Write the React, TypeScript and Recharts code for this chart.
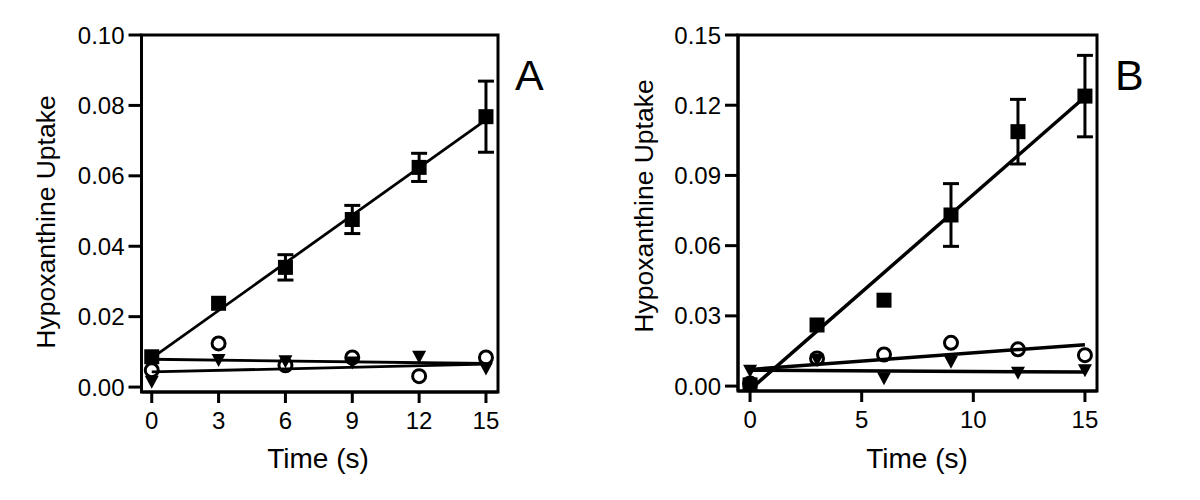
import { ComposedChart, Scatter, XAxis, YAxis, ErrorBar, ReferenceArea } from 'recharts';

// sampling times (s)
const time = [0, 3, 6, 9, 12, 15];
const fitTime = [0, 15];

// panel A
const aTicksX = [0, 3, 6, 9, 12, 15];
const aTicksY = [0, 0.02, 0.04, 0.06, 0.08, 0.1];
const aSquare = [0.0086, 0.0238, 0.034, 0.0476, 0.0624, 0.0768];
const aSquareErr = [0, 0, 0.0036, 0.004, 0.004, 0.0101];
const aCircle = [0.0048, 0.0124, 0.0062, 0.0084, 0.0031, 0.0084];
const aTriangle = [0.0015, 0.0077, 0.0073, 0.007, 0.0086, 0.0053];
const aSquareFit = [0.0082, 0.0759];
const aCircleFit = [0.0079, 0.0067];
const aTriangleFit = [0.0043, 0.0065];

// panel B
const bTicksX = [0, 5, 10, 15];
const bTicksY = [0, 0.03, 0.06, 0.09, 0.12, 0.15];
const bSquare = [0.0005, 0.0261, 0.0367, 0.0731, 0.1087, 0.1239];
const bSquareErr = [0, 0, 0, 0.0134, 0.0138, 0.0174];
const bCircle = [0.0011, 0.0118, 0.0135, 0.0185, 0.0157, 0.0132];
const bTriangle = [0.0065, 0.0112, 0.0033, 0.0104, 0.0057, 0.0068];
const bSquareFit = [-0.0015, 0.1235];
const bCircleFit = [0.0071, 0.0177];
const bTriangleFit = [0.0068, 0.006];

const FONT = '"Liberation Sans", Arial, Helvetica, sans-serif';

const points = (ys: number[], errs?: number[]) =>
    time.map((t, i) => ({ t, y: ys[i], err: errs ? errs[i] : 0 }));
const fit = (ends: number[]) => fitTime.map((t, i) => ({ t, y: ends[i] }));

const SquareDot = (p: any) => <rect x={p.cx - 7.5} y={p.cy - 7.5} width={15} height={15} fill="#000" />;
const CircleDot = (p: any) => <circle cx={p.cx} cy={p.cy} r={6.5} fill="none" stroke="#000" strokeWidth={3} />;
const TriangleDot = (p: any) => (
    <path d={`M${p.cx - 7},${p.cy - 6} L${p.cx + 7},${p.cy - 6} L${p.cx},${p.cy + 7} Z`} fill="#000" />
);
const NoDot = () => <g />;

interface PanelProps {
    left: number;
    yWidth: number;
    marginRight: number;
    xAxisHeight: number;
    xDomain: [number, number];
    yDomain: [number, number];
    xTicks: number[];
    yTicks: number[];
    square: number[];
    squareErr: number[];
    circle: number[];
    triangle: number[];
    squareFit: number[];
    circleFit: number[];
    triangleFit: number[];
    fitWidth: number;
    letter: string;
    yTitleX: number;
    yTitleY: number;
    xTitleX: number;
}

function Panel(p: PanelProps) {
    const axisStyle = { stroke: '#000', strokeWidth: 3 };
    const tickStyle = { fontSize: 24, fill: '#000', fontFamily: FONT };
    return (
        <div style={{ position: 'absolute', left: p.left, top: 0 }}>
            <ComposedChart width={600} height={500} margin={{ top: 35, right: p.marginRight, bottom: 0, left: 0 }}>
                <XAxis
                    dataKey="t"
                    type="number"
                    domain={p.xDomain}
                    ticks={p.xTicks}
                    interval={0}
                    allowDataOverflow
                    height={p.xAxisHeight}
                    axisLine={axisStyle}
                    tickLine={axisStyle}
                    tickSize={11}
                    tickMargin={9}
                    tick={tickStyle}
                    label={{
                        content: () => (
                            <text x={p.xTitleX} y={468} textAnchor="middle" fontSize={28} fontFamily={FONT} fill="#000">
                                Time (s)
                            </text>
                        ),
                    }}
                />
                <YAxis
                    type="number"
                    domain={p.yDomain}
                    ticks={p.yTicks}
                    interval={0}
                    allowDataOverflow
                    width={p.yWidth}
                    axisLine={axisStyle}
                    tickLine={axisStyle}
                    tickSize={13}
                    tickMargin={4}
                    tick={tickStyle}
                    tickFormatter={(v) => Number(v).toFixed(2)}
                    label={{
                        content: () => (
                            <text
                                x={p.yTitleX}
                                y={p.yTitleY}
                                transform={`rotate(-90 ${p.yTitleX} ${p.yTitleY})`}
                                textAnchor="middle"
                                fontSize={26.5}
                                fontFamily={FONT}
                                fill="#000"
                            >
                                Hypoxanthine Uptake
                            </text>
                        ),
                    }}
                />
                <ReferenceArea
                    x1={p.xDomain[0]}
                    x2={p.xDomain[1]}
                    y1={p.yDomain[0]}
                    y2={p.yDomain[1]}
                    fill="none"
                    stroke="#000"
                    strokeWidth={3}
                    label={{
                        content: () => (
                            <text x={515} y={90} fontSize={43} fontFamily={FONT} fill="#000">
                                {p.letter}
                            </text>
                        ),
                    }}
                />
                <Scatter data={fit(p.squareFit)} dataKey="y" shape={NoDot} line={{ stroke: '#000', strokeWidth: p.fitWidth }} isAnimationActive={false} />
                <Scatter data={fit(p.circleFit)} dataKey="y" shape={NoDot} line={{ stroke: '#000', strokeWidth: p.fitWidth }} isAnimationActive={false} />
                <Scatter data={fit(p.triangleFit)} dataKey="y" shape={NoDot} line={{ stroke: '#000', strokeWidth: p.fitWidth }} isAnimationActive={false} />
                <Scatter data={points(p.circle)} dataKey="y" shape={CircleDot} isAnimationActive={false} />
                <Scatter data={points(p.triangle)} dataKey="y" shape={TriangleDot} isAnimationActive={false} />
                <Scatter data={points(p.square, p.squareErr)} dataKey="y" shape={SquareDot} isAnimationActive={false}>
                    <ErrorBar dataKey="err" direction="y" width={8} strokeWidth={3} stroke="#000" />
                </Scatter>
            </ComposedChart>
        </div>
    );
}

export default function App() {
    return (
        <div style={{ position: 'absolute', left: 0, top: 0, width: 1200, height: 500, background: '#fff' }}>
            <Panel
                left={0}
                yWidth={141.5}
                marginRight={102}
                xAxisHeight={108}
                xDomain={[-0.46, 15.54]}
                yDomain={[-0.0014, 0.1]}
                xTicks={aTicksX}
                yTicks={aTicksY}
                square={aSquare}
                squareErr={aSquareErr}
                circle={aCircle}
                triangle={aTriangle}
                squareFit={aSquareFit}
                circleFit={aCircleFit}
                triangleFit={aTriangleFit}
                fitWidth={2.8}
                letter="A"
                yTitleX={55}
                yTitleY={222}
                xTitleX={318}
            />
            <Panel
                left={600}
                yWidth={138}
                marginRight={103}
                xAxisHeight={109}
                xDomain={[-0.54, 15.54]}
                yDomain={[-0.0021, 0.15]}
                xTicks={bTicksX}
                yTicks={bTicksY}
                square={bSquare}
                squareErr={bSquareErr}
                circle={bCircle}
                triangle={bTriangle}
                squareFit={bSquareFit}
                circleFit={bCircleFit}
                triangleFit={bTriangleFit}
                fitWidth={3.5}
                letter="B"
                yTitleX={53}
                yTitleY={206}
                xTitleX={317}
            />
        </div>
    );
}
